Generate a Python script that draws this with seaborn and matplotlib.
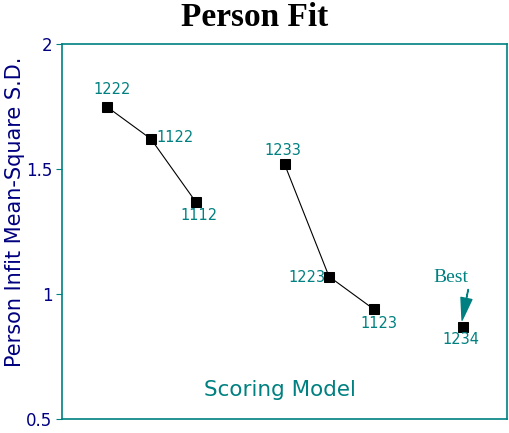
import pandas as pd
import matplotlib
matplotlib.use("Agg")
import matplotlib.pyplot as plt
import seaborn as sns

# scoring models, position on the (unlabelled) x axis, group and fit value
models = ["1222", "1122", "1112", "1233", "1223", "1123", "1234"]
positions = [1, 2, 3, 5, 6, 7, 9]
groups = ["a", "a", "a", "b", "b", "b", "c"]
infit_sd = [1.75, 1.62, 1.37, 1.52, 1.07, 0.94, 0.87]
y_ticks = [0.5, 1, 1.5, 2]

# where each model label sits relative to its point (dx, dy in px, ha, va)
label_pos = {
    "1222": (6, 10, "center", "bottom"),
    "1122": (5, 1, "left", "center"),
    "1112": (3, -6, "center", "top"),
    "1233": (-2, 6, "center", "bottom"),
    "1223": (-3, -1, "right", "center"),
    "1123": (5, -7, "center", "top"),
    "1234": (-2, -6, "center", "top"),
}

teal = "#008080"
navy = "#000080"

df = pd.DataFrame({"model": models, "x": positions, "group": groups, "fit": infit_sd})

sns.set_style("white")
plt.rcParams["font.family"] = ["DejaVu Sans"]

fig = plt.figure(figsize=(5.1, 4.33), dpi=100)
ax = fig.add_axes([62 / 510, 1 - 419 / 433, 445 / 510, 375 / 433])

sns.lineplot(data=df, x="x", y="fit", units="group", estimator=None,
             color="black", marker="s", markersize=7, linewidth=0.8,
             markeredgecolor="black", ax=ax)

for _, row in df.iterrows():
    dx, dy, ha, va = label_pos[row["model"]]
    ax.annotate(row["model"], (row["x"], row["fit"]), xytext=(dx * 0.72, dy * 0.72),
                textcoords="offset points", ha=ha, va=va, color=teal, fontsize=10.5)

ax.annotate("Best", xy=(8.99, 0.895), xytext=(8.75, 1.065), ha="center", va="center",
            color=teal, fontsize=14, family="Liberation Serif",
            arrowprops=dict(facecolor=teal, edgecolor=teal, width=0.3,
                            headwidth=8, headlength=16, shrink=0.0))

ax.text(4.9, 0.616, "Scoring Model", ha="center", va="center", color=teal, fontsize=15.5)

ax.set_xlim(0, 10)
ax.set_ylim(0.5, 2)
ax.set_xticks([])
ax.set_yticks(y_ticks)
ax.set_yticklabels(["0.5", "1", "1.5", "2"])
ax.tick_params(axis="y", direction="out", length=4, color=teal, labelcolor=navy,
               labelsize=12, left=True, pad=3)
ax.set_xlabel("")
ax.set_ylabel("Person Infit Mean-Square S.D.", color=navy, fontsize=15)
ax.yaxis.set_label_coords(-0.083, 0.552)
for s in ax.spines.values():
    s.set_color(teal)
    s.set_linewidth(1.2)

fig.text(0.5, 1 - 18 / 433, "Person Fit", ha="center", va="center", color="black",
         fontsize=24, fontweight="bold", family="Liberation Serif")

fig.savefig("out.png", dpi=100)
